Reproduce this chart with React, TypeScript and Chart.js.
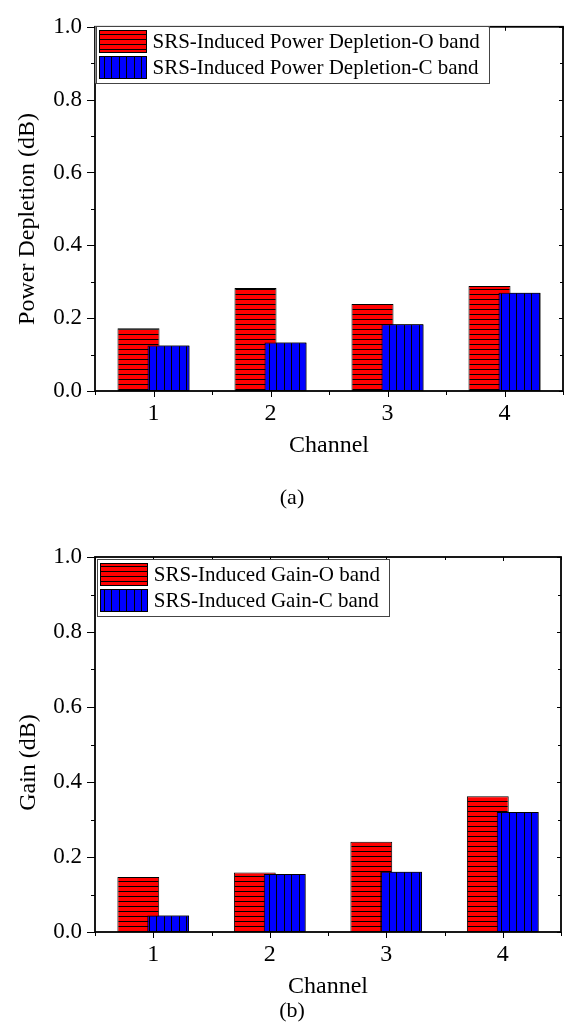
import React, { useEffect, useRef } from 'react';
import { Chart, registerables } from 'chart.js';

Chart.register(...registerables);

// ---- data ----
const channels = ['1', '2', '3', '4'];
const depletionO = [0.172, 0.283, 0.239, 0.288];
const depletionC = [0.125, 0.133, 0.183, 0.27];
const gainO = [0.147, 0.159, 0.241, 0.362];
const gainC = [0.044, 0.155, 0.161, 0.32];
const yMin = 0;
const yMax = 1.0;
const yMajorStep = 0.2;
const yMinorStep = 0.1;
const legendNamesA = ['SRS-Induced Power Depletion-O band', 'SRS-Induced Power Depletion-C band'];
const legendNamesB = ['SRS-Induced Gain-O band', 'SRS-Induced Gain-C band'];
const xTitle = 'Channel';
const yTitleA = 'Power Depletion (dB)';
const yTitleB = 'Gain (dB)';
const captionA = '(a)';
const captionB = '(b)';

const FONT = '"Liberation Serif", "Times New Roman", serif';

// red fill with horizontal black lines every 5px
function makeRedHatch() {
  const c = document.createElement('canvas');
  c.width = 8;
  c.height = 5;
  const x = c.getContext('2d')!;
  x.fillStyle = '#ff0000';
  x.fillRect(0, 0, 8, 5);
  x.fillStyle = '#000';
  x.fillRect(0, 4, 8, 1);
  return x.createPattern(c, 'repeat')!;
}

// blue fill with vertical black lines every ~7.5px
function makeBlueHatch() {
  const c = document.createElement('canvas');
  c.width = 15;
  c.height = 8;
  const x = c.getContext('2d')!;
  x.fillStyle = '#0000ff';
  x.fillRect(0, 0, 15, 8);
  x.fillStyle = '#000';
  x.fillRect(6, 0, 1, 8);
  x.fillRect(14, 0, 1, 8);
  return x.createPattern(c, 'repeat')!;
}

const decorPlugin = {
  id: 'decor',
  afterDatasetsDraw(chart: any) {
    // draw the C-band series on top of the O-band series
    const meta = chart.getDatasetMeta(1);
    if (meta && meta.controller) meta.controller.draw();
  },
  afterDraw(chart: any, _args: any, opts: any) {
    const { ctx, chartArea: ca } = chart;
    const xs = chart.scales.x;
    const ys = chart.scales.y;
    ctx.save();
    ctx.strokeStyle = '#000';
    ctx.fillStyle = '#000';

    // ticks
    ctx.lineWidth = 1;
    const nMinor = Math.round((yMax - yMin) / yMinorStep);
    const ratio = Math.round(yMajorStep / yMinorStep);
    for (let i = 0; i <= nMinor; i++) {
      const v = yMin + i * yMinorStep;
      const py = Math.round(ys.getPixelForValue(v)) + 0.5;
      const major = i % ratio === 0;
      const lo = major ? 8 : 4;
      const li = major ? 4 : 3;
      ctx.beginPath();
      ctx.moveTo(ca.left - lo, py);
      ctx.lineTo(ca.left, py);
      ctx.moveTo(ca.right, py);
      ctx.lineTo(ca.right - li, py);
      ctx.stroke();
    }
    const n = chart.data.labels.length;
    const centers: number[] = [];
    for (let i = 0; i < n; i++) centers.push(xs.getPixelForValue(i));
    const bounds: number[] = [ca.left];
    for (let i = 0; i < n - 1; i++) bounds.push((centers[i] + centers[i + 1]) / 2);
    bounds.push(ca.right);
    centers.forEach((cx) => {
      const px = Math.round(cx) + 0.5;
      ctx.beginPath();
      ctx.moveTo(px, ca.bottom);
      ctx.lineTo(px, ca.bottom + 6);
      ctx.moveTo(px, ca.top);
      ctx.lineTo(px, ca.top + 4);
      ctx.stroke();
    });
    bounds.forEach((bx) => {
      const px = Math.round(bx) + 0.5;
      ctx.beginPath();
      ctx.moveTo(px, ca.bottom);
      ctx.lineTo(px, ca.bottom + 4);
      ctx.moveTo(px, ca.top);
      ctx.lineTo(px, ca.top + 3);
      ctx.stroke();
    });

    // frame
    ctx.lineWidth = 1.8;
    ctx.strokeRect(ca.left, ca.top, ca.right - ca.left, ca.bottom - ca.top);

    // axis titles
    ctx.font = `24px ${FONT}`;
    ctx.textAlign = 'center';
    ctx.textBaseline = 'alphabetic';
    ctx.fillText(opts.xTitle, (ca.left + ca.right) / 2, ca.bottom + 61);
    ctx.save();
    ctx.translate(opts.yTitleX, (ca.top + ca.bottom) / 2 + opts.yTitleDy);
    ctx.rotate(-Math.PI / 2);
    ctx.textBaseline = 'middle';
    ctx.fillText(opts.yTitle, 0, 0);
    ctx.restore();

    // caption
    ctx.font = `22px ${FONT}`;
    ctx.textBaseline = 'alphabetic';
    ctx.fillText(opts.caption, opts.captionX, opts.captionY);

    // legend
    const lg = opts.legend;
    ctx.font = `21px ${FONT}`;
    const names: string[] = chart.data.datasets.map((d: any) => d.label);
    const tw = Math.max(...names.map((s) => ctx.measureText(s).width));
    const bx = ca.left + lg.dx;
    const by = ca.top + lg.dy;
    const symW = 48;
    const symH = 23;
    const pitch = 26;
    const textX = bx + 3 + symW + 6;
    const bw = textX + tw + 9 - bx;
    const bh = 4 + pitch * names.length + 1;
    ctx.fillStyle = '#fff';
    ctx.fillRect(bx, by, bw, bh);
    ctx.strokeStyle = '#444';
    ctx.lineWidth = 1;
    ctx.strokeRect(Math.round(bx) + 0.5, Math.round(by) + 0.5, Math.round(bw), Math.round(bh));
    names.forEach((name, i) => {
      const sx = Math.round(bx + 3);
      const sy = Math.round(by + 4 + i * pitch);
      ctx.fillStyle = chart.data.datasets[i].backgroundColor;
      ctx.fillRect(sx, sy, symW, symH);
      ctx.strokeStyle = '#000';
      ctx.strokeRect(sx + 0.5, sy + 0.5, symW - 1, symH - 1);
      ctx.fillStyle = '#000';
      ctx.textAlign = 'left';
      ctx.textBaseline = 'middle';
      ctx.fillText(name, textX, sy + symH / 2 + 1);
    });
    ctx.restore();
  },
};

type PanelProps = {
  top: number;
  height: number;
  o: number[];
  c: number[];
  names: string[];
  yTitle: string;
  caption: string;
  padTop: number;
  padRight: number;
  xHeight: number;
  yTitleX: number;
  yTitleDy: number;
  captionY: number;
  legend: { dx: number; dy: number };
};

function Panel(p: PanelProps) {
  const ref = useRef<HTMLCanvasElement>(null);
  useEffect(() => {
    const canvas = ref.current!;
    const red = makeRedHatch();
    const blue = makeBlueHatch();
    const common = {
      borderColor: '#000',
      borderWidth: 1,
      borderSkipped: false,
      categoryPercentage: 0.513,
      barPercentage: 1.4,
    };
    const chart = new Chart(canvas, {
      type: 'bar',
      data: {
        labels: channels,
        datasets: [
          { label: p.names[0], data: p.o, backgroundColor: red, ...common } as any,
          { label: p.names[1], data: p.c, backgroundColor: blue, ...common } as any,
        ],
      },
      plugins: [decorPlugin],
      options: {
        responsive: false,
        animation: false,
        devicePixelRatio: 1,
        layout: { padding: { left: 0, top: p.padTop, right: p.padRight, bottom: 0 } },
        plugins: {
          legend: { display: false },
          tooltip: { enabled: false },
          decor: {
            xTitle,
            yTitle: p.yTitle,
            yTitleX: p.yTitleX,
            yTitleDy: p.yTitleDy,
            caption: p.caption,
            captionX: 292,
            captionY: p.captionY,
            legend: p.legend,
          },
        } as any,
        scales: {
          x: {
            type: 'category',
            offset: true,
            grid: { display: false, drawTicks: false },
            border: { display: false },
            ticks: { color: '#000', font: { family: FONT, size: 24 }, padding: 8, maxRotation: 0 },
            afterFit: (s: any) => {
              s.height = p.xHeight;
            },
          },
          y: {
            type: 'linear',
            min: yMin,
            max: yMax,
            grid: { display: false, drawTicks: false },
            border: { display: false },
            ticks: {
              stepSize: yMajorStep,
              color: '#000',
              font: { family: FONT, size: 23 },
              padding: 13,
              callback: (v: any) => Number(v).toFixed(1),
            },
            afterFit: (s: any) => {
              s.width = 95;
            },
          },
        },
      },
    });
    return () => chart.destroy();
  }, []);
  return (
    <canvas
      ref={ref}
      width={571}
      height={p.height}
      style={{ position: 'absolute', left: 0, top: p.top, width: 571, height: p.height }}
    />
  );
}

export default function App() {
  return (
    <div style={{ position: 'absolute', left: 0, top: 0, width: 571, height: 1024, background: '#fff' }}>
      <Panel
        top={0}
        height={512}
        o={depletionO}
        c={depletionC}
        names={legendNamesA}
        yTitle={yTitleA}
        caption={captionA}
        padTop={14}
        padRight={8}
        xHeight={121}
        yTitleX={27.5}
        yTitleDy={10}
        captionY={503.5}
        legend={{ dx: 0.5, dy: -0.5 }}
      />
      <Panel
        top={512}
        height={512}
        o={gainO}
        c={gainC}
        names={legendNamesB}
        yTitle={yTitleB}
        caption={captionB}
        padTop={45}
        padRight={10}
        xHeight={92}
        yTitleX={29}
        yTitleDy={18}
        captionY={505}
        legend={{ dx: 1.7, dy: 2 }}
      />
    </div>
  );
}
